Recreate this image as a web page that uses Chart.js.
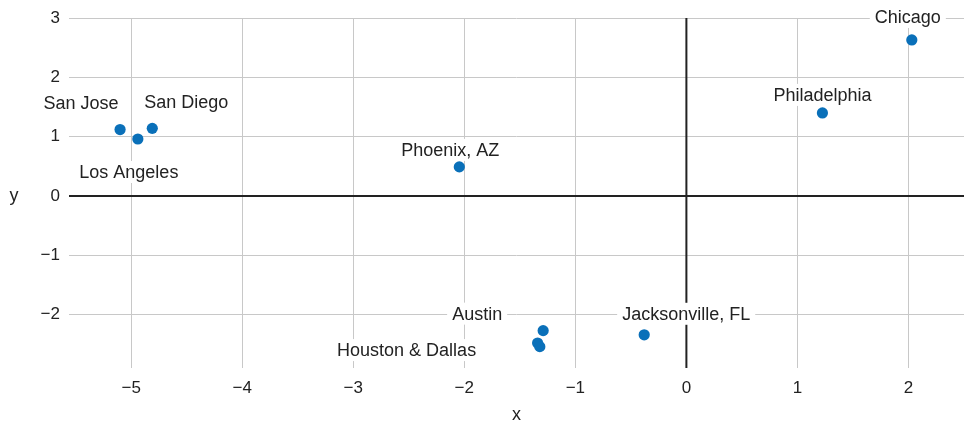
<!DOCTYPE html>
<html><head><meta charset="utf-8">
<script src="https://cdn.jsdelivr.net/npm/chart.js@4"></script>
<style>html,body{margin:0;padding:0;background:#fff;overflow:hidden}#wrap{width:964px;height:424px;position:relative}</style>
</head><body><div id="wrap"><canvas id="c"></canvas></div>
<script>
const cities = ['Chicago','Philadelphia','Phoenix, AZ','San Jose','Los Angeles','San Diego','Austin','Houston','Dallas','Jacksonville, FL'];
const xValues = [2.03, 1.225, -2.045, -5.10, -4.94, -4.81, -1.29, -1.34, -1.32, -0.38];
const yValues = [2.63, 1.40, 0.49, 1.12, 0.96, 1.14, -2.27, -2.48, -2.54, -2.34];
const labelTexts = ['Chicago','Philadelphia','Phoenix, AZ','San Jose','Los Angeles','San Diego','Austin','Houston & Dallas','','Jacksonville, FL'];
const xTicks = [-5,-4,-3,-2,-1,0,1,2];
const yTicks = [-2,-1,0,1,2,3];
const xTitle = 'x';
const yTitle = 'y';

// label placement offsets (pixels, from point to label baseline-centre)
const labelOffsets = [[-4,-17],[0,-12],[-9,-11],[-39,-21],[-9,39],[34,-20],[-66,-11],[-131,13],[0,0],[42,-15]];

const FONT = "'Liberation Sans', Arial, Helvetica, sans-serif";
const fmt = v => v < 0 ? '\u2212' + Math.abs(v) : String(v);

const labelPlugin = {
  id: 'labelsAndAxes',
  beforeDatasetsDraw(chart) {
    const {ctx, chartArea: a, scales: {x, y}} = chart;
    ctx.save();
    // zero lines
    ctx.strokeStyle = '#222';
    ctx.lineWidth = 2;
    const x0 = x.getPixelForValue(0), y0 = y.getPixelForValue(0);
    ctx.beginPath();
    ctx.moveTo(x0, a.top); ctx.lineTo(x0, a.bottom);
    ctx.moveTo(a.left, y0); ctx.lineTo(a.right, y0);
    ctx.stroke();
    // point labels with white boxes
    ctx.font = '18px ' + FONT;
    ctx.textAlign = 'center';
    ctx.textBaseline = 'alphabetic';
    labelTexts.forEach((t, i) => {
      if (!t) return;
      const px = x.getPixelForValue(xValues[i]) + labelOffsets[i][0];
      const py = y.getPixelForValue(yValues[i]) + labelOffsets[i][1];
      const w = ctx.measureText(t).width;
      ctx.fillStyle = '#fff';
      ctx.fillRect(px - w / 2 - 5, py - 17, w + 10, 22);
      ctx.fillStyle = '#222';
      ctx.fillText(t, px, py);
    });
    // axis titles
    ctx.font = '18px ' + FONT;
    ctx.fillStyle = '#222';
    ctx.fillText(xTitle, (a.left + a.right) / 2, a.bottom + 52);
    ctx.fillText(yTitle, 14, (a.top + a.bottom) / 2 + 8);
    ctx.restore();
  }
};

new Chart(document.getElementById('c'), {
  type: 'scatter',
  data: {
    datasets: [{
      label: 'cities',
      data: xValues.map((v, i) => ({x: v, y: yValues[i], name: cities[i]})),
      backgroundColor: '#0a70b9',
      borderWidth: 0,
      pointRadius: 5.6,
      pointHoverRadius: 5.6,
      clip: false
    }]
  },
  options: {
    responsive: true,
    maintainAspectRatio: false,
    animation: false,
    events: [],
    layout: {autoPadding: false, padding: {top: 18, right: 0, left: 0, bottom: 0}},
    plugins: {legend: {display: false}, tooltip: {enabled: false}},
    scales: {
      x: {
        type: 'linear',
        min: -5.56, max: 2.5,
        afterBuildTicks: s => { s.ticks = xTicks.map(v => ({value: v})); },
        afterFit: s => { s.height = 56; s.paddingLeft = 0; s.paddingRight = 0; },
        grid: {color: ctx => ctx.tick && ctx.tick.value === 0 ? 'rgba(0,0,0,0)' : '#c8c8c8', lineWidth: 1, drawTicks: false},
        border: {display: false},
        ticks: {padding: 10, color: '#222', font: {family: FONT, size: 17}, callback: v => fmt(v), maxRotation: 0, autoSkip: false}
      },
      y: {
        type: 'linear',
        min: -2.9, max: 3,
        afterBuildTicks: s => { s.ticks = yTicks.map(v => ({value: v})); },
        afterFit: s => { s.width = 69; s.paddingTop = 0; s.paddingBottom = 0; },
        grid: {color: ctx => ctx.tick && ctx.tick.value === 0 ? 'rgba(0,0,0,0)' : '#c8c8c8', lineWidth: 1, drawTicks: false},
        border: {display: false},
        ticks: {padding: 9, color: '#222', font: {family: FONT, size: 17}, callback: v => fmt(v), autoSkip: false}
      }
    }
  },
  plugins: [labelPlugin]
});
</script>
</body></html>
